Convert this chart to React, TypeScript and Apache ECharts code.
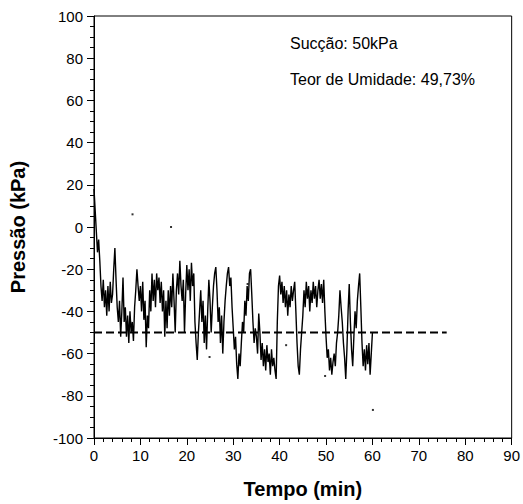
import React, { useEffect, useRef } from "react";
import * as echarts from "echarts";

// Sampling step of the pressure record (minutes)
const STEP_MIN = 0.25;

// Pressure readings (kPa), one row per 5 minutes
const pressure0_5 = [18, 8, -2, -12, -6, -16, -28, -35, -25, -38, -30, -42, -28, -40, -26, -36, -32, -20, -10, -25];
const pressure5_10 = [-38, -45, -35, -52, -40, -24, -45, -38, -52, -42, -55, -40, -50, -45, -54, -38, -30, -20, -28, -35];
const pressure10_15 = [-28, -40, -26, -44, -35, -57, -42, -48, -30, -40, -22, -35, -25, -38, -22, -30, -24, -36, -26, -40];
const pressure15_20 = [-30, -52, -35, -48, -30, -42, -28, -38, -22, -35, -50, -30, -22, -32, -16, -28, -35, -25, -50, -32];
const pressure20_25 = [-18, -30, -20, -35, -17, -28, -22, -45, -55, -63, -50, -40, -30, -45, -35, -55, -42, -58, -40, -25];
const pressure25_30 = [-35, -50, -38, -28, -22, -19, -30, -45, -38, -55, -42, -60, -45, -35, -28, -22, -19, -28, -24, -38];
const pressure30_35 = [-48, -58, -52, -65, -72, -60, -66, -55, -45, -50, -35, -42, -28, -35, -22, -20, -32, -45, -55, -48];
const pressure35_40 = [-52, -60, -41, -50, -63, -55, -66, -58, -68, -56, -64, -60, -70, -58, -66, -62, -68, -72, -45, -28];
const pressure40_45 = [-23, -32, -26, -36, -28, -38, -30, -42, -32, -38, -28, -35, -30, -26, -40, -55, -66, -70, -58, -50];
const pressure45_50 = [-42, -30, -38, -26, -34, -28, -40, -30, -36, -26, -34, -28, -38, -30, -25, -34, -27, -36, -25, -40];
const pressure50_55 = [-52, -62, -58, -68, -62, -70, -64, -60, -66, -55, -50, -42, -30, -38, -45, -55, -62, -72, -58, -40];
const pressure55_60 = [-27, -45, -58, -66, -52, -40, -48, -35, -28, -22, -38, -55, -66, -58, -68, -56, -65, -55, -70, -60, -50];

// Isolated stray readings [min, kPa]
const strayPoints = [
  [8.3, 6],
  [16.6, 0],
  [24.9, -61.6],
  [33.1, -27],
  [41.4, -56],
  [49.8, -70.6],
  [60.1, -86.7],
];

// Reference suction line (kPa) and its extent (min)
const suctionLevel = -50;
const suctionLineEnd = 76;

const xTicks = { min: 0, max: 90, interval: 10 };
const yTicks = { min: -100, max: 100, interval: 20 };

const annotationLines = ["Sucção: 50kPa", "Teor de Umidade: 49,73%"];

export default function App() {
  const ref = useRef<HTMLDivElement>(null);

  useEffect(() => {
    document.body.style.margin = "0";
    if (!ref.current) return;
    const chart = echarts.init(ref.current, null, { renderer: "svg" });

    const allPressure = [
      ...pressure0_5,
      ...pressure5_10,
      ...pressure10_15,
      ...pressure15_20,
      ...pressure20_25,
      ...pressure25_30,
      ...pressure30_35,
      ...pressure35_40,
      ...pressure40_45,
      ...pressure45_50,
      ...pressure50_55,
      ...pressure55_60,
    ];
    const lineData = allPressure.map((v, i) => [i * STEP_MIN, v]);

    const font = "Arial, 'Liberation Sans', sans-serif";

    chart.setOption({
      animation: false,
      backgroundColor: "#fff",
      grid: {
        left: 94,
        right: 8,
        top: 16,
        bottom: 66,
        show: true,
        borderColor: "#000",
        borderWidth: 1,
        backgroundColor: "transparent",
      },
      xAxis: {
        type: "value",
        min: xTicks.min,
        max: xTicks.max,
        interval: xTicks.interval,
        name: "Tempo (min)",
        nameLocation: "middle",
        nameGap: 41,
        nameTextStyle: { fontFamily: font, fontWeight: "bold", fontSize: 20, color: "#000" },
        axisLine: { show: true, onZero: false, lineStyle: { color: "#000", width: 1 } },
        axisTick: { show: true, inside: false, length: 7, lineStyle: { color: "#000" } },
        minorTick: { show: true, splitNumber: 5, length: 4, lineStyle: { color: "#000" } },
        axisLabel: { fontFamily: font, fontSize: 15, color: "#000", margin: 10 },
        splitLine: { show: false },
      },
      yAxis: {
        type: "value",
        min: yTicks.min,
        max: yTicks.max,
        interval: yTicks.interval,
        name: "Pressão (kPa)",
        nameLocation: "middle",
        nameGap: 66,
        nameTextStyle: { fontFamily: font, fontWeight: "bold", fontSize: 20, color: "#000" },
        axisLine: { show: true, onZero: false, lineStyle: { color: "#000", width: 1 } },
        axisTick: { show: true, inside: false, length: 7, lineStyle: { color: "#000" } },
        minorTick: { show: true, splitNumber: 4, length: 4, lineStyle: { color: "#000" } },
        axisLabel: { fontFamily: font, fontSize: 15, color: "#000", margin: 11 },
        splitLine: { show: false },
      },
      series: [
        {
          type: "line",
          data: lineData,
          showSymbol: false,
          symbol: "none",
          lineStyle: { color: "#000", width: 1.4 },
          z: 3,
        },
        {
          type: "line",
          data: [
            [0, suctionLevel],
            [suctionLineEnd, suctionLevel],
          ],
          symbol: "none",
          lineStyle: { color: "#000", width: 2, type: [8, 4] },
          z: 4,
        },
        {
          type: "scatter",
          data: strayPoints,
          symbol: "rect",
          symbolSize: 2,
          itemStyle: { color: "#000" },
        },
      ],
      graphic: annotationLines.map((txt, i) => ({
        type: "text",
        left: 290,
        top: i === 0 ? 35 : 71,
        style: { text: txt, fontFamily: font, fontSize: 16, fill: "#000" },
      })),
    });

    return () => chart.dispose();
  }, []);

  return <div ref={ref} style={{ width: 523, height: 504 }} />;
}
